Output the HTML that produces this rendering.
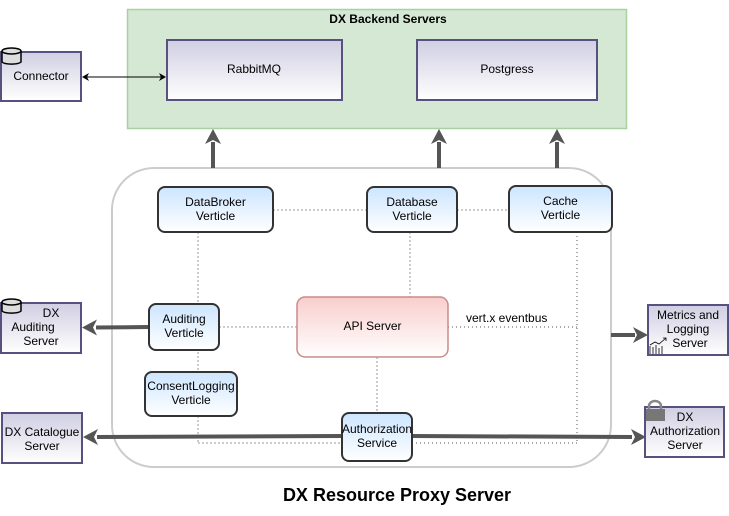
<!DOCTYPE html>
<html><head><meta charset="utf-8"><style>
html,body{margin:0;padding:0;background:#fff;}
svg{display:block;font-family:"Liberation Sans",sans-serif;}
</style></head><body>
<svg width="729" height="516" viewBox="0 0 729 516" xmlns="http://www.w3.org/2000/svg">
<defs>
<linearGradient id="pu" x1="0" y1="0" x2="0" y2="1"><stop offset="0" stop-color="#d0cee2"/><stop offset="1" stop-color="#ffffff"/></linearGradient>
<linearGradient id="bl" x1="0" y1="0" x2="0" y2="1"><stop offset="0" stop-color="#cce5ff"/><stop offset="1" stop-color="#ffffff"/></linearGradient>
<linearGradient id="rd" x1="0" y1="0" x2="0" y2="1"><stop offset="0" stop-color="#f8cecc"/><stop offset="1" stop-color="#ffffff"/></linearGradient>
</defs>
<rect x="127.5" y="9.5" width="499" height="119" fill="#d5e8d4" stroke="#a9d0a0" stroke-width="1.5"/>
<text x="388" y="23" font-size="12" font-weight="bold" text-anchor="middle">DX Backend Servers</text>
<rect x="167" y="40" width="175" height="60" fill="url(#pu)" stroke="#56517e" stroke-width="2"/>
<text x="254" y="73" font-size="12" text-anchor="middle">RabbitMQ</text>
<rect x="417" y="40" width="180" height="60" fill="url(#pu)" stroke="#56517e" stroke-width="2"/>
<text x="507" y="73" font-size="12" text-anchor="middle">Postgress</text>
<rect x="1" y="52" width="80" height="49" fill="url(#pu)" stroke="#56517e" stroke-width="2"/>
<text x="41" y="80" font-size="12" text-anchor="middle">Connector</text>
<path d="M2,51 v11 a10,3 0 0 0 19,0 v-11" fill="#ddd" stroke="#000" stroke-width="1.5"/>
<ellipse cx="11.5" cy="51" rx="9.5" ry="3" fill="#ddd" stroke="#000" stroke-width="1.5"/>
<line x1="86" y1="77" x2="162" y2="77" stroke="#000" stroke-width="1"/>
<path d="M82,77 l7,-4 -2,4 2,4z M166,77 l-7,-4 2,4 -2,4z" fill="#000"/>
<rect x="112" y="168" width="499" height="299" rx="42" fill="none" stroke="#cccccc" stroke-width="2"/>
<g stroke="#555" stroke-width="4" fill="#555">
<line x1="213" y1="168" x2="213" y2="142"/><line x1="439" y1="168" x2="439" y2="142"/><line x1="557" y1="168" x2="557" y2="142"/>
</g>
<path d="M213,129 l-8,15 8,-4 8,4z M439,129 l-8,15 8,-4 8,4z M557,129 l-8,15 8,-4 8,4z" fill="#555"/>
<g stroke="#999" stroke-width="1" stroke-dasharray="2,2" fill="none">
<line x1="273" y1="210" x2="367" y2="210"/><line x1="457" y1="210" x2="509" y2="210"/>
<line x1="198" y1="232" x2="198" y2="443"/><line x1="198" y1="443" x2="342" y2="443"/>
<line x1="219" y1="327" x2="297" y2="327"/><line x1="410" y1="232" x2="410" y2="297"/>
<line x1="377" y1="357" x2="377" y2="413"/>
</g>
<g stroke="#555" stroke-width="1" stroke-dasharray="1,3" fill="none">
<line x1="448" y1="327" x2="577" y2="327"/><line x1="577" y1="232" x2="577" y2="443"/>
<line x1="412" y1="443" x2="577" y2="443"/>
</g>
<text x="466" y="322" font-size="12">vert.x eventbus</text>
<g stroke="#555" stroke-width="4">
<line x1="149" y1="327" x2="96" y2="327.5"/>
<line x1="342" y1="436" x2="97" y2="437"/>
<line x1="412" y1="436" x2="632" y2="437"/>
<line x1="611" y1="335" x2="635" y2="335"/>
</g>
<path d="M82,327.5 l15,-8 -4,8 4,8z M83,437 l15,-8 -4,8 4,8z M646,437 l-15,-8 4,8 -4,8z M648,335 l-15,-8 4,8 -4,8z" fill="#555"/>
<g stroke="#333" stroke-width="2" fill="url(#bl)">
<rect x="158" y="187" width="115" height="45" rx="7"/>
<rect x="367" y="187" width="90" height="45" rx="7"/>
<rect x="509" y="186" width="103" height="46" rx="7"/>
<rect x="149" y="304" width="70" height="46" rx="7"/>
<rect x="145" y="372" width="92" height="44" rx="7"/>
<rect x="342" y="413" width="70" height="48" rx="7"/>
</g>
<rect x="297" y="297" width="151" height="60" rx="8" fill="url(#rd)" stroke="#c98b8b" stroke-width="1.5"/>
<g font-size="12" text-anchor="middle">
<text x="215.5" y="206">DataBroker</text><text x="215.5" y="220">Verticle</text>
<text x="412" y="206">Database</text><text x="412" y="220">Verticle</text>
<text x="560.5" y="205">Cache</text><text x="560.5" y="219">Verticle</text>
<text x="184" y="323">Auditing</text><text x="184" y="337">Verticle</text>
<text x="191" y="390">ConsentLogging</text><text x="191" y="404">Verticle</text>
<text x="377" y="433">Authorization</text><text x="377" y="447">Service</text>
<text x="372.5" y="330">API Server</text>
</g>
<g stroke="#56517e" stroke-width="2" fill="url(#pu)">
<rect x="1" y="303" width="80" height="50"/>
<rect x="2" y="413" width="80" height="50"/>
<rect x="648" y="305" width="80" height="50"/>
<rect x="645" y="407" width="79" height="50"/>
</g>
<path d="M2,302 v9 a10,3 0 0 0 19,0 v-9" fill="#ddd" stroke="#000" stroke-width="1.5"/>
<ellipse cx="11.5" cy="302" rx="9.5" ry="3" fill="#ddd" stroke="#000" stroke-width="1.5"/>
<g font-size="12" text-anchor="middle">
<text x="51" y="317">DX</text><text x="33" y="331">Auditing</text><text x="41" y="345">Server</text>
<text x="42" y="436">DX Catalogue</text><text x="42" y="450">Server</text>
<text x="688" y="319">Metrics and</text><text x="688" y="333">Logging</text><text x="690" y="347">Server</text>
<text x="685" y="421">DX</text><text x="685" y="435">Authorization</text><text x="685" y="449">Server</text>
</g>
<g stroke="#000" stroke-width="0.8" fill="none">
<path d="M650,354 v-8 M653,354 v-7 M656,354 v-9 M659,354 v-6 M662,354 v-8"/>
<path d="M650,345 l5,-3 4,2 7,-6 M663,338 h3 v3"/>
</g>
<path d="M649,409 v-3 a6,5 0 0 1 12,0 v3" fill="none" stroke="#888" stroke-width="2.5"/>
<rect x="646" y="409" width="19" height="12" fill="#777"/>
<text x="397" y="501" font-size="18" font-weight="bold" text-anchor="middle">DX Resource Proxy Server</text>
</svg>
</body></html>
